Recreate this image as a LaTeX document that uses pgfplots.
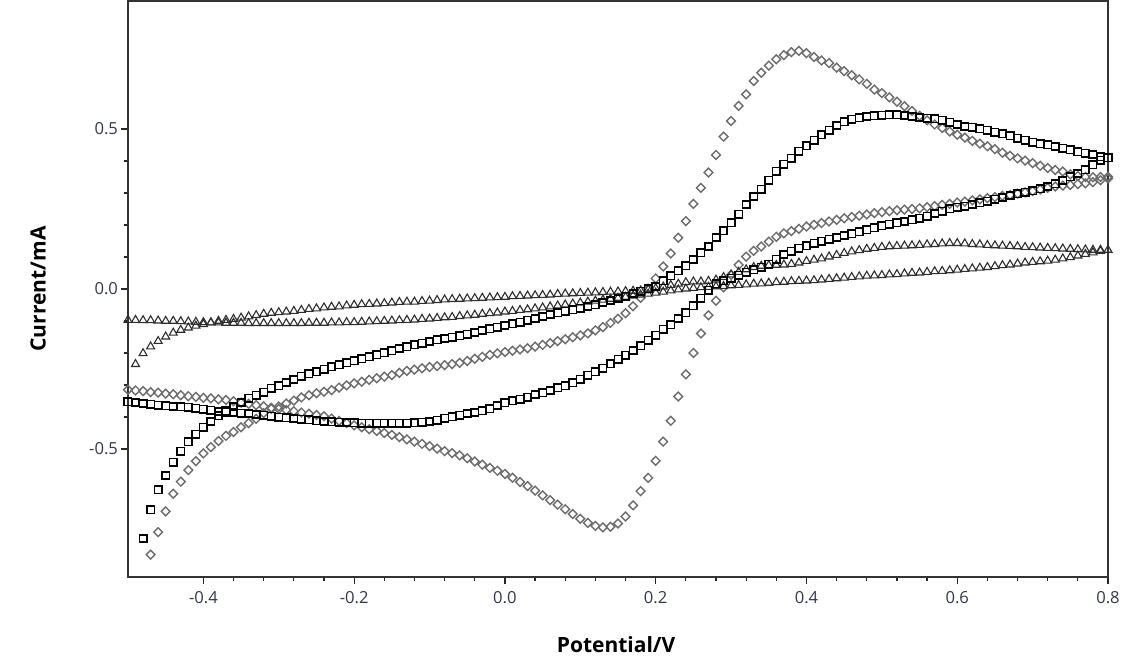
\documentclass[border=0pt]{standalone}
\usepackage{fontspec}
\setmainfont{Open Sans}
\usepackage{pgfplots}
\pgfplotsset{compat=1.18}
\definecolor{tickcol}{RGB}{50,55,80}
\definecolor{diacol}{RGB}{108,108,108}
\definecolor{tricol}{RGB}{45,45,45}
\begin{document}
\begin{tikzpicture}
\useasboundingbox (-64pt,-42.5pt) rectangle (503pt,288.5pt);
\begin{axis}[
  scale only axis, width=490pt, height=288pt,
  xmin=-0.5, xmax=0.8, ymin=-0.9, ymax=0.9,
  xtick={-0.4,-0.2,0,0.2,0.4,0.6,0.8},
  ytick={-0.5,0,0.5},
  minor x tick num=4, minor y tick num=4,
  tick align=outside, xtick pos=bottom, ytick pos=left,
  major tick length=3.5pt, minor tick length=2pt,
  tick style={black!85, line width=0.6pt},
  axis line style={black!80, line width=0.7pt},
  ticklabel style={font=\fontsize{8.3}{9}\selectfont, text=tickcol},
  yticklabel style={xshift=2pt},
  /pgf/number format/fixed, /pgf/number format/fixed zerofill,
  /pgf/number format/precision=1, /pgf/number format/assume math mode=true,
  xlabel={Potential/V}, ylabel={Current/mA},
  label style={font=\bfseries\fontsize{10.5}{12}\selectfont},
  xlabel style={at={(axis description cs:0.498,-0.118)}, anchor=center},
  ylabel style={at={(axis description cs:-0.0918,0.5)}, anchor=center},
  clip=false,
]
% diamonds, forward scan
\addplot[only marks, mark=square, mark size=1.55pt, mark options={rotate=45, draw=diacol, line width=0.7pt}] coordinates {
(-0.47,-0.830) (-0.46,-0.760) (-0.45,-0.695) (-0.44,-0.640) (-0.43,-0.602) (-0.42,-0.566) (-0.41,-0.538) (-0.40,-0.514) (-0.39,-0.494) (-0.38,-0.475)
(-0.37,-0.459) (-0.36,-0.447) (-0.35,-0.432) (-0.34,-0.419) (-0.33,-0.406) (-0.32,-0.388) (-0.31,-0.374) (-0.30,-0.367) (-0.29,-0.358) (-0.28,-0.349)
(-0.27,-0.339) (-0.26,-0.332) (-0.25,-0.326) (-0.24,-0.321) (-0.23,-0.316) (-0.22,-0.308) (-0.21,-0.301) (-0.20,-0.295) (-0.19,-0.290) (-0.18,-0.284)
(-0.17,-0.279) (-0.16,-0.274) (-0.15,-0.269) (-0.14,-0.262) (-0.13,-0.256) (-0.12,-0.252) (-0.11,-0.248) (-0.10,-0.244) (-0.09,-0.241) (-0.08,-0.238)
(-0.07,-0.235) (-0.06,-0.231) (-0.05,-0.225) (-0.04,-0.218) (-0.03,-0.212) (-0.02,-0.206) (-0.01,-0.201) (0.00,-0.197) (0.01,-0.193) (0.02,-0.189)
(0.03,-0.185) (0.04,-0.180) (0.05,-0.175) (0.06,-0.169) (0.07,-0.163) (0.08,-0.157) (0.09,-0.151) (0.10,-0.145) (0.11,-0.139) (0.12,-0.129)
(0.13,-0.119) (0.14,-0.106) (0.15,-0.093) (0.16,-0.076) (0.17,-0.054) (0.18,-0.028) (0.19,0.001) (0.20,0.033) (0.21,0.070) (0.22,0.111)
(0.23,0.160) (0.24,0.212) (0.25,0.266) (0.26,0.316) (0.27,0.364) (0.28,0.419) (0.29,0.476) (0.30,0.525) (0.31,0.572) (0.32,0.608)
(0.33,0.650) (0.34,0.676) (0.35,0.698) (0.36,0.718) (0.37,0.731) (0.38,0.740) (0.39,0.744) (0.40,0.737) (0.41,0.725) (0.42,0.714)
(0.43,0.706) (0.44,0.692) (0.45,0.681) (0.46,0.668) (0.47,0.655) (0.48,0.641) (0.49,0.623) (0.50,0.612) (0.51,0.599) (0.52,0.585)
(0.53,0.571) (0.54,0.556) (0.55,0.541) (0.56,0.527) (0.57,0.514) (0.58,0.503) (0.59,0.492) (0.60,0.482) (0.61,0.473) (0.62,0.463)
(0.63,0.454) (0.64,0.446) (0.65,0.437) (0.66,0.426) (0.67,0.416) (0.68,0.408) (0.69,0.401) (0.70,0.393) (0.71,0.385) (0.72,0.378)
(0.73,0.372) (0.74,0.367) (0.75,0.358) (0.76,0.353) (0.77,0.350) (0.78,0.349) (0.79,0.350) (0.80,0.351)
};
% diamonds, reverse scan
\addplot[only marks, mark=square, mark size=1.55pt, mark options={rotate=45, draw=diacol, line width=0.7pt}] coordinates {
(0.80,0.345) (0.79,0.340) (0.78,0.334) (0.77,0.330) (0.76,0.328) (0.75,0.325) (0.74,0.323) (0.73,0.320) (0.72,0.316) (0.71,0.311)
(0.70,0.306) (0.69,0.302) (0.68,0.298) (0.67,0.294) (0.66,0.291) (0.65,0.287) (0.64,0.284) (0.63,0.280) (0.62,0.277) (0.61,0.273)
(0.60,0.270) (0.59,0.266) (0.58,0.263) (0.57,0.259) (0.56,0.256) (0.55,0.252) (0.54,0.250) (0.53,0.248) (0.52,0.246) (0.51,0.243)
(0.50,0.240) (0.49,0.237) (0.48,0.233) (0.47,0.229) (0.46,0.225) (0.45,0.221) (0.44,0.216) (0.43,0.211) (0.42,0.206) (0.41,0.201)
(0.40,0.195) (0.39,0.188) (0.38,0.181) (0.37,0.174) (0.36,0.163) (0.35,0.148) (0.34,0.133) (0.33,0.119) (0.32,0.101) (0.31,0.075)
(0.30,0.044) (0.29,0.005) (0.28,-0.037) (0.27,-0.082) (0.26,-0.139) (0.25,-0.200) (0.24,-0.267) (0.23,-0.336) (0.22,-0.412) (0.21,-0.477)
(0.20,-0.537) (0.19,-0.590) (0.18,-0.632) (0.17,-0.676) (0.16,-0.711) (0.15,-0.733) (0.14,-0.743) (0.13,-0.745) (0.12,-0.740) (0.11,-0.731)
(0.10,-0.718) (0.09,-0.703) (0.08,-0.688) (0.07,-0.674) (0.06,-0.660) (0.05,-0.645) (0.04,-0.630) (0.03,-0.616) (0.02,-0.603) (0.01,-0.590)
(0.00,-0.578) (-0.01,-0.568) (-0.02,-0.559) (-0.03,-0.549) (-0.04,-0.539) (-0.05,-0.529) (-0.06,-0.520) (-0.07,-0.513) (-0.08,-0.507) (-0.09,-0.499)
(-0.10,-0.491) (-0.11,-0.484) (-0.12,-0.477) (-0.13,-0.470) (-0.14,-0.463) (-0.15,-0.456) (-0.16,-0.450) (-0.17,-0.444) (-0.18,-0.438) (-0.19,-0.432)
(-0.20,-0.426) (-0.21,-0.419) (-0.22,-0.412) (-0.23,-0.405) (-0.24,-0.398) (-0.25,-0.394) (-0.26,-0.390) (-0.27,-0.386) (-0.28,-0.382) (-0.29,-0.378)
(-0.30,-0.375) (-0.31,-0.371) (-0.32,-0.367) (-0.33,-0.363) (-0.34,-0.359) (-0.35,-0.355) (-0.36,-0.351) (-0.37,-0.347) (-0.38,-0.345) (-0.39,-0.342)
(-0.40,-0.340) (-0.41,-0.337) (-0.42,-0.335) (-0.43,-0.332) (-0.44,-0.329) (-0.45,-0.327) (-0.46,-0.324) (-0.47,-0.322) (-0.48,-0.319) (-0.49,-0.317)
(-0.50,-0.315)
};
% triangles, forward scan
\addplot[only marks, mark=triangle, mark size=2.3pt, mark options={draw=tricol, line width=0.55pt}] coordinates {
(-0.49,-0.235) (-0.48,-0.201) (-0.47,-0.180) (-0.46,-0.163) (-0.45,-0.149) (-0.44,-0.137) (-0.43,-0.128) (-0.42,-0.121) (-0.41,-0.115) (-0.40,-0.110)
(-0.39,-0.105) (-0.38,-0.100) (-0.37,-0.097) (-0.36,-0.094) (-0.35,-0.090) (-0.34,-0.086) (-0.33,-0.082) (-0.32,-0.078) (-0.31,-0.075) (-0.30,-0.073)
(-0.29,-0.071) (-0.28,-0.069) (-0.27,-0.066) (-0.26,-0.063) (-0.25,-0.061) (-0.24,-0.058) (-0.23,-0.056) (-0.22,-0.055) (-0.21,-0.052) (-0.20,-0.050)
(-0.19,-0.048) (-0.18,-0.047) (-0.17,-0.046) (-0.16,-0.045) (-0.15,-0.043) (-0.14,-0.041) (-0.13,-0.040) (-0.12,-0.040) (-0.11,-0.038) (-0.10,-0.037)
(-0.09,-0.035) (-0.08,-0.033) (-0.07,-0.032) (-0.06,-0.031) (-0.05,-0.030) (-0.04,-0.029) (-0.03,-0.028) (-0.02,-0.027) (-0.01,-0.026) (0.00,-0.025)
(0.01,-0.023) (0.02,-0.022) (0.03,-0.021) (0.04,-0.020) (0.05,-0.019) (0.06,-0.018) (0.07,-0.016) (0.08,-0.015) (0.09,-0.014) (0.10,-0.013)
(0.11,-0.012) (0.12,-0.011) (0.13,-0.010) (0.14,-0.009) (0.15,-0.008) (0.16,-0.007) (0.17,-0.006) (0.18,-0.005) (0.19,-0.002) (0.20,0.002)
(0.21,0.007) (0.22,0.012) (0.23,0.016) (0.24,0.021) (0.25,0.023) (0.26,0.023) (0.27,0.025) (0.28,0.029) (0.29,0.037) (0.30,0.045)
(0.31,0.053) (0.32,0.061) (0.33,0.068) (0.34,0.072) (0.35,0.074) (0.36,0.075) (0.37,0.076) (0.38,0.078) (0.39,0.082) (0.40,0.087)
(0.41,0.091) (0.42,0.095) (0.43,0.101) (0.44,0.106) (0.45,0.112) (0.46,0.117) (0.47,0.121) (0.48,0.125) (0.49,0.128) (0.50,0.131)
(0.51,0.133) (0.52,0.134) (0.53,0.135) (0.54,0.136) (0.55,0.137) (0.56,0.139) (0.57,0.140) (0.58,0.142) (0.59,0.143) (0.60,0.143)
(0.61,0.142) (0.62,0.140) (0.63,0.139) (0.64,0.137) (0.65,0.136) (0.66,0.135) (0.67,0.134) (0.68,0.133) (0.69,0.131) (0.70,0.130)
(0.71,0.129) (0.72,0.128) (0.73,0.127) (0.74,0.126) (0.75,0.125) (0.76,0.124) (0.77,0.123) (0.78,0.122) (0.79,0.122) (0.80,0.122)
};
% triangles, reverse scan
\addplot[only marks, mark=triangle, mark size=2.3pt, mark options={draw=tricol, line width=0.55pt}] coordinates {
(0.79,0.119) (0.78,0.114) (0.77,0.109) (0.76,0.104) (0.75,0.099) (0.74,0.095) (0.73,0.091) (0.72,0.088) (0.71,0.086) (0.70,0.084)
(0.69,0.082) (0.68,0.079) (0.67,0.076) (0.66,0.074) (0.65,0.071) (0.64,0.068) (0.63,0.066) (0.62,0.064) (0.61,0.062) (0.60,0.060)
(0.59,0.058) (0.58,0.056) (0.57,0.055) (0.56,0.053) (0.55,0.051) (0.54,0.050) (0.53,0.048) (0.52,0.046) (0.51,0.045) (0.50,0.043)
(0.49,0.042) (0.48,0.041) (0.47,0.039) (0.46,0.037) (0.45,0.035) (0.44,0.033) (0.43,0.031) (0.42,0.029) (0.41,0.027) (0.40,0.026)
(0.39,0.025) (0.38,0.024) (0.37,0.022) (0.36,0.021) (0.35,0.019) (0.34,0.017) (0.33,0.016) (0.32,0.014) (0.31,0.012) (0.30,0.011)
(0.29,0.009) (0.28,0.008) (0.27,0.006) (0.26,0.005) (0.25,0.003) (0.24,0.001) (0.23,-0.002) (0.22,-0.005) (0.21,-0.009) (0.20,-0.012)
(0.19,-0.015) (0.18,-0.018) (0.17,-0.021) (0.16,-0.025) (0.15,-0.028) (0.14,-0.031) (0.13,-0.034) (0.12,-0.037) (0.11,-0.040) (0.10,-0.043)
(0.09,-0.046) (0.08,-0.049) (0.07,-0.052) (0.06,-0.055) (0.05,-0.058) (0.04,-0.061) (0.03,-0.064) (0.02,-0.066) (0.01,-0.069) (0.00,-0.071)
(-0.01,-0.074) (-0.02,-0.076) (-0.03,-0.078) (-0.04,-0.081) (-0.05,-0.083) (-0.06,-0.085) (-0.07,-0.088) (-0.08,-0.089) (-0.09,-0.091) (-0.10,-0.093)
(-0.11,-0.094) (-0.12,-0.096) (-0.13,-0.097) (-0.14,-0.098) (-0.15,-0.099) (-0.16,-0.100) (-0.17,-0.101) (-0.18,-0.102) (-0.19,-0.103) (-0.20,-0.104)
(-0.21,-0.104) (-0.22,-0.105) (-0.23,-0.105) (-0.24,-0.106) (-0.25,-0.106) (-0.26,-0.106) (-0.27,-0.107) (-0.28,-0.107) (-0.29,-0.107) (-0.30,-0.107)
(-0.31,-0.107) (-0.32,-0.107) (-0.33,-0.107) (-0.34,-0.107) (-0.35,-0.106) (-0.36,-0.106) (-0.37,-0.106) (-0.38,-0.105) (-0.39,-0.105) (-0.40,-0.104)
(-0.41,-0.103) (-0.42,-0.102) (-0.43,-0.101) (-0.44,-0.100) (-0.45,-0.100) (-0.46,-0.099) (-0.47,-0.098) (-0.48,-0.098) (-0.49,-0.097) (-0.50,-0.097)
};
% squares, forward scan
\addplot[only marks, mark=square, mark size=1.85pt, mark options={draw=black, line width=0.8pt}] coordinates {
(-0.48,-0.780) (-0.47,-0.690) (-0.46,-0.627) (-0.45,-0.583) (-0.44,-0.541) (-0.43,-0.507) (-0.42,-0.477) (-0.41,-0.454) (-0.40,-0.432) (-0.39,-0.414)
(-0.38,-0.396) (-0.37,-0.381) (-0.36,-0.367) (-0.35,-0.355) (-0.34,-0.341) (-0.33,-0.332) (-0.32,-0.322) (-0.31,-0.310) (-0.30,-0.302) (-0.29,-0.292)
(-0.28,-0.283) (-0.27,-0.273) (-0.26,-0.265) (-0.25,-0.259) (-0.24,-0.251) (-0.23,-0.243) (-0.22,-0.237) (-0.21,-0.231) (-0.20,-0.224) (-0.19,-0.218)
(-0.18,-0.212) (-0.17,-0.206) (-0.16,-0.199) (-0.15,-0.193) (-0.14,-0.186) (-0.13,-0.181) (-0.12,-0.175) (-0.11,-0.170) (-0.10,-0.164) (-0.09,-0.159)
(-0.08,-0.155) (-0.07,-0.151) (-0.06,-0.146) (-0.05,-0.141) (-0.04,-0.136) (-0.03,-0.130) (-0.02,-0.125) (-0.01,-0.120) (0.00,-0.114) (0.01,-0.109)
(0.02,-0.104) (0.03,-0.098) (0.04,-0.092) (0.05,-0.086) (0.06,-0.080) (0.07,-0.075) (0.08,-0.070) (0.09,-0.065) (0.10,-0.060) (0.11,-0.055)
(0.12,-0.049) (0.13,-0.042) (0.14,-0.036) (0.15,-0.030) (0.16,-0.023) (0.17,-0.014) (0.18,-0.007) (0.19,0.000) (0.20,0.008) (0.21,0.026)
(0.22,0.041) (0.23,0.057) (0.24,0.073) (0.25,0.092) (0.26,0.113) (0.27,0.133) (0.28,0.161) (0.29,0.182) (0.30,0.207) (0.31,0.234)
(0.32,0.264) (0.33,0.289) (0.34,0.312) (0.35,0.340) (0.36,0.368) (0.37,0.390) (0.38,0.409) (0.39,0.430) (0.40,0.448) (0.41,0.465)
(0.42,0.482) (0.43,0.496) (0.44,0.511) (0.45,0.523) (0.46,0.530) (0.47,0.535) (0.48,0.539) (0.49,0.541) (0.50,0.543) (0.51,0.544)
(0.52,0.544) (0.53,0.542) (0.54,0.539) (0.55,0.536) (0.56,0.534) (0.57,0.532) (0.58,0.527) (0.59,0.521) (0.60,0.514) (0.61,0.508)
(0.62,0.505) (0.63,0.501) (0.64,0.496) (0.65,0.490) (0.66,0.485) (0.67,0.479) (0.68,0.471) (0.69,0.465) (0.70,0.459) (0.71,0.454)
(0.72,0.450) (0.73,0.445) (0.74,0.440) (0.75,0.435) (0.76,0.429) (0.77,0.424) (0.78,0.420) (0.79,0.413) (0.80,0.410)
};
% squares, reverse scan
\addplot[only marks, mark=square, mark size=1.85pt, mark options={draw=black, line width=0.8pt}] coordinates {
(0.79,0.402) (0.78,0.388) (0.77,0.373) (0.76,0.361) (0.75,0.350) (0.74,0.339) (0.73,0.329) (0.72,0.320) (0.71,0.313) (0.70,0.307)
(0.69,0.303) (0.68,0.298) (0.67,0.292) (0.66,0.286) (0.65,0.280) (0.64,0.274) (0.63,0.269) (0.62,0.264) (0.61,0.259) (0.60,0.255)
(0.59,0.250) (0.58,0.243) (0.57,0.236) (0.56,0.228) (0.55,0.221) (0.54,0.216) (0.53,0.211) (0.52,0.207) (0.51,0.202) (0.50,0.197)
(0.49,0.191) (0.48,0.185) (0.47,0.179) (0.46,0.173) (0.45,0.167) (0.44,0.161) (0.43,0.155) (0.42,0.149) (0.41,0.143) (0.40,0.135)
(0.39,0.127) (0.38,0.118) (0.37,0.108) (0.36,0.093) (0.35,0.077) (0.34,0.068) (0.33,0.060) (0.32,0.052) (0.31,0.043) (0.30,0.034)
(0.29,0.025) (0.28,0.016) (0.27,-0.004) (0.26,-0.029) (0.25,-0.052) (0.24,-0.074) (0.23,-0.092) (0.22,-0.112) (0.21,-0.126) (0.20,-0.144)
(0.19,-0.160) (0.18,-0.177) (0.17,-0.192) (0.16,-0.207) (0.15,-0.219) (0.14,-0.234) (0.13,-0.247) (0.12,-0.259) (0.11,-0.270) (0.10,-0.282)
(0.09,-0.293) (0.08,-0.302) (0.07,-0.309) (0.06,-0.317) (0.05,-0.324) (0.04,-0.330) (0.03,-0.338) (0.02,-0.344) (0.01,-0.350) (0.00,-0.356)
(-0.01,-0.364) (-0.02,-0.374) (-0.03,-0.381) (-0.04,-0.386) (-0.05,-0.389) (-0.06,-0.394) (-0.07,-0.399) (-0.08,-0.404) (-0.09,-0.410) (-0.10,-0.414)
(-0.11,-0.416) (-0.12,-0.418) (-0.13,-0.419) (-0.14,-0.420) (-0.15,-0.420) (-0.16,-0.420) (-0.17,-0.420) (-0.18,-0.420) (-0.19,-0.420) (-0.20,-0.418)
(-0.21,-0.417) (-0.22,-0.416) (-0.23,-0.415) (-0.24,-0.414) (-0.25,-0.412) (-0.26,-0.409) (-0.27,-0.407) (-0.28,-0.405) (-0.29,-0.403) (-0.30,-0.401)
(-0.31,-0.398) (-0.32,-0.394) (-0.33,-0.392) (-0.34,-0.389) (-0.35,-0.388) (-0.36,-0.386) (-0.37,-0.385) (-0.38,-0.383) (-0.39,-0.379) (-0.40,-0.376)
(-0.41,-0.373) (-0.42,-0.370) (-0.43,-0.368) (-0.44,-0.367) (-0.45,-0.365) (-0.46,-0.363) (-0.47,-0.360) (-0.48,-0.358) (-0.49,-0.355) (-0.50,-0.353)
};
\end{axis}
\end{tikzpicture}
\end{document}
